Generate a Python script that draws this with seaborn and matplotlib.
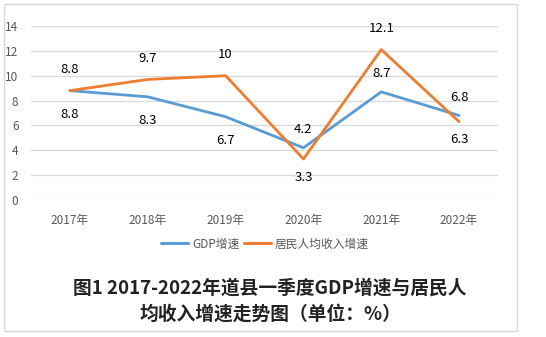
import matplotlib
matplotlib.use("Agg")
import matplotlib.pyplot as plt
import seaborn as sns
import pandas as pd
from matplotlib.lines import Line2D
from matplotlib.patches import Rectangle

years = ["2017年", "2018年", "2019年", "2020年", "2021年", "2022年"]
gdp = [8.8, 8.3, 6.7, 4.2, 8.7, 6.8]
income = [8.8, 9.7, 10, 3.3, 12.1, 6.3]
series_names = ["GDP增速", "居民人均收入增速"]
gdp_label_pos = ["below", "below", "below", "above", "above", "above"]
inc_label_pos = ["above", "above", "above", "below", "above", "below"]

sns.set_style("white")
plt.rcParams['font.family'] = ['Noto Sans CJK SC', 'DejaVu Sans']

df = pd.DataFrame({
    "year": years * 2,
    "value": gdp + income,
    "series": [series_names[0]] * len(years) + [series_names[1]] * len(years),
})
colors = {series_names[0]: "#5B9BD5", series_names[1]: "#ED7D31"}

fig = plt.figure(figsize=(5.46, 3.37), dpi=100)
ax = fig.add_axes([31/546, 1-200/337, (498-31)/546, (200-26)/337])

sns.lineplot(data=df, x="year", y="value", hue="series", palette=colors,
             linewidth=2.0, ax=ax, legend=False, sort=False)

ax.set_ylim(0, 14)
ax.set_xlim(-0.5, len(years) - 0.5)
ax.set_yticks(range(0, 15, 2))
ax.yaxis.grid(True, color="#D9D9D9", linewidth=0.9)
ax.set_axisbelow(True)
for s in ax.spines.values():
    s.set_visible(False)
ax.set_xlabel("")
ax.set_ylabel("")
ax.tick_params(axis="both", length=0, labelsize=8.5, labelcolor="#595959")
ax.tick_params(axis="x", pad=10)
ax.tick_params(axis="y", pad=9)

def fmt(v):
    return f"{v:g}"

for i, (v, p) in enumerate(zip(gdp, gdp_label_pos)):
    off = 17 if p == "below" else -13
    ax.annotate(fmt(v), (i, v), xytext=(0, -off), textcoords="offset points",
                ha="center", va="center", fontsize=9.5, color="black")
for i, (v, p) in enumerate(zip(income, inc_label_pos)):
    off = -15 if p == "above" else 13
    ax.annotate(fmt(v), (i, v), xytext=(0, -off), textcoords="offset points",
                ha="center", va="center", fontsize=9.5, color="black")

handles = [Line2D([0], [0], color=colors[n], lw=2.2) for n in series_names]
fig.legend(handles, series_names, loc="center", bbox_to_anchor=(265/546, 1-244/337),
           ncol=2, frameon=False, fontsize=8.5, handlelength=2.3,
           handletextpad=0.3, columnspacing=0.4, labelcolor="#595959")

fig.text(270/546, 1-288/337, "图1 2017-2022年道县一季度GDP增速与居民人",
         ha="center", va="center", fontsize=13.5, fontweight="bold", color="#222222")
fig.text(270/546, 1-314/337, "均收入增速走势图（单位：%）",
         ha="center", va="center", fontsize=13.5, fontweight="bold", color="#222222")

fig.patches.append(Rectangle((4/546, 1-331/337), (517-4)/546, (331-4)/337,
                             transform=fig.transFigure, fill=False,
                             edgecolor="#D9D9D9", linewidth=1))

fig.savefig("out.png", dpi=100)
